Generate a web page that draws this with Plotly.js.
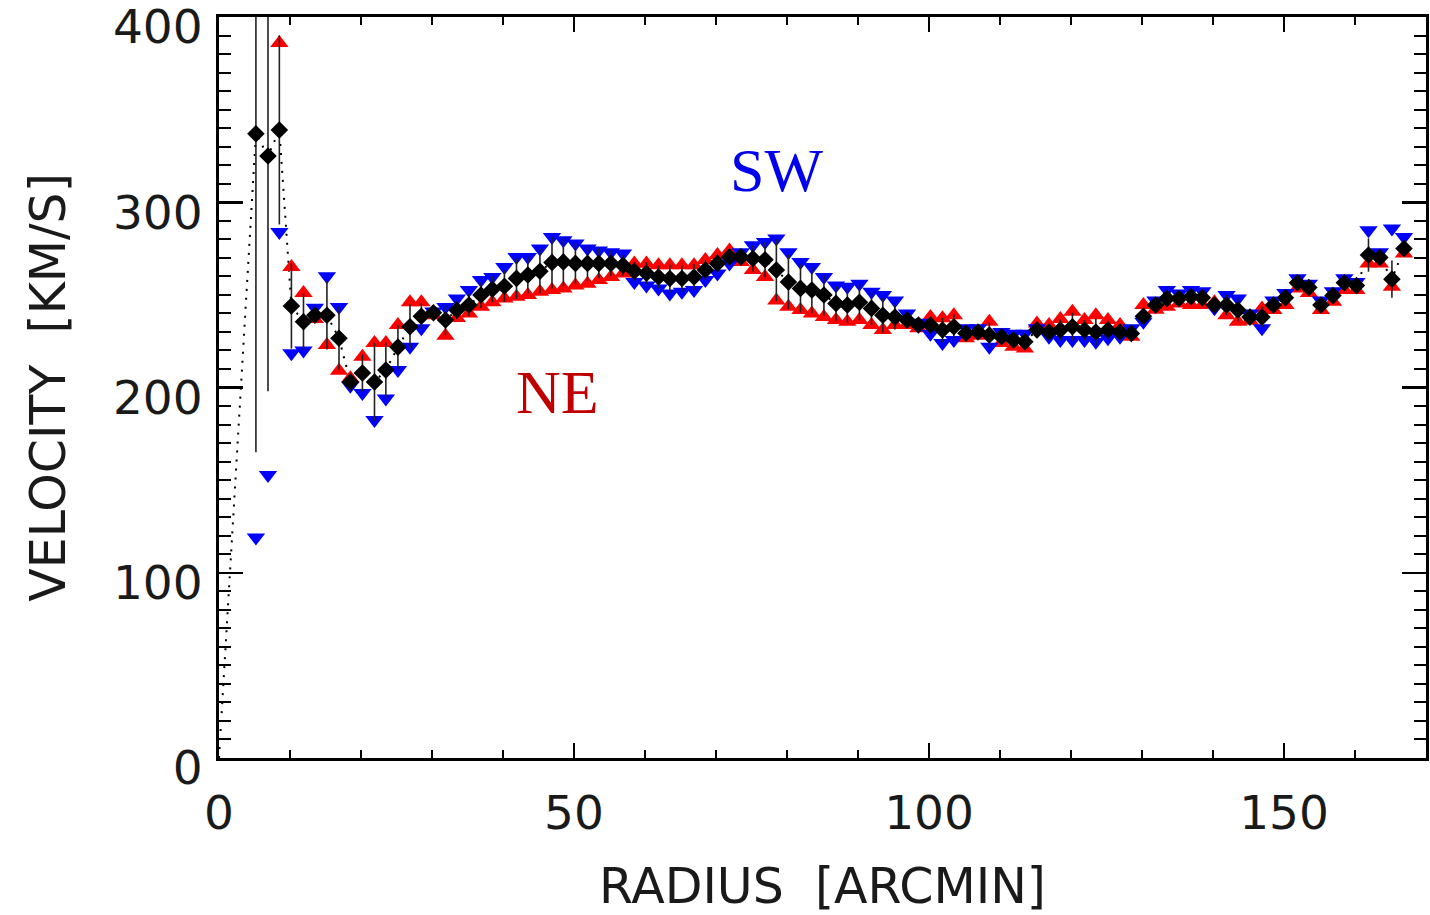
<!DOCTYPE html>
<html>
<head>
<meta charset="utf-8">
<script src="https://cdn.plot.ly/plotly-3.0.1.min.js"></script>
<style>html,body{margin:0;padding:0;background:#fff}#plot{width:1430px;height:915px}</style>
</head>
<body>
<div id="plot"></div>
<script>
// Radius of each bin [arcmin]
const radius = [5.2, 6.9, 8.5, 10.2, 11.9, 13.5, 15.2, 16.9, 18.5, 20.2,
  21.9, 23.5, 25.2, 26.9, 28.5, 30.2, 31.9, 33.5, 35.2, 36.9,
  38.5, 40.2, 41.9, 43.5, 45.2, 46.9, 48.5, 50.2, 51.9, 53.5,
  55.2, 56.9, 58.5, 60.2, 61.9, 63.5, 65.2, 66.9, 68.5, 70.2,
  71.9, 73.5, 75.2, 76.9, 78.5, 80.2, 81.9, 83.5, 85.2, 86.9,
  88.5, 90.2, 91.9, 93.5, 95.2, 96.9, 98.5, 100.2, 101.9, 103.5,
  105.2, 106.9, 108.5, 110.2, 111.9, 113.5, 115.2, 116.9, 118.5, 120.2,
  121.9, 123.5, 125.2, 126.9, 128.5, 130.2, 131.9, 133.5, 135.2, 136.9,
  138.5, 140.2, 141.9, 143.5, 145.2, 146.9, 148.5, 150.2, 151.9, 153.5,
  155.2, 156.9, 158.5, 160.2, 161.9, 163.5, 165.2, 166.9];

// Mean rotation velocity (black diamonds) [km/s]
const velMean = [337, 325, 339, 244, 235.5, 239, 239, 226.6, 203, 207.8,
  203, 209.4, 221.8, 232.8, 238.5, 240.3, 236.4, 241.8, 244.5, 249.9,
  253, 254.7, 258.9, 260.7, 262.8, 267.5, 267.8, 267, 267, 267,
  267, 266, 262.8, 261.7, 259.7, 258.8, 258.8, 259.7, 263.4, 267,
  270.5, 270.5, 269.6, 269, 263.4, 257, 253.5, 252.6, 249.9, 245.4,
  244.5, 246, 242.7, 239, 238, 236.4, 233.7, 233.7, 231, 232.8,
  229.3, 230, 228.3, 227.4, 225.6, 224.7, 231, 230, 231, 232.8,
  231, 230, 231, 230, 229.2, 238.5, 244.5, 248, 248, 249,
  248.5, 244.5, 244.5, 241.8, 238, 238, 244.5, 248.5, 256.5, 254,
  244.5, 249.6, 256.5, 255, 271.5, 270.2, 258.5, 275];

// Error on the mean [km/s]
const velErr = [172, 127, 51, 23, 15.5, 3, 18.5, 17, 2, 10,
  21, 15, 12, 12, 7, 1, 8, 5, 6, 7,
  7, 8.5, 11, 10, 12, 14, 13, 11, 9.5, 8,
  7, 5.5, 5, 6, 6, 7.5, 7, 7, 5.5, 5,
  3.5, 2.5, 7, 9.5, 16.7, 14.7, 13, 12.5, 11, 9.3,
  9.5, 9.8, 9, 9.5, 6.7, 3, 1.5, 4.5, 6.7, 6.7,
  2.7, 2, 6.7, 3, 3.5, 4, 1.3, 3, 5.7, 7.6,
  5.4, 7.2, 5, 3, 2.3, 4.5, 2.2, 4.5, 2.7, 4,
  4, 2, 5.5, 6.3, 2, 5.4, 2.6, 3.3, 2.8, 2.5,
  2.6, 2.8, 3.2, 2.2, 9, 3, 10, 4.5];

// NE side (red up-triangles) [km/s]
const velNE = [null, null, 386, 265, 251, 237, 223, 209, 205, 216.6,
  224, 224, 233.7, 246, 246, 239, 228, 237.5, 240, 243.6,
  246, 248, 249, 250, 251.7, 252.6, 253.5, 255, 256, 258,
  259.7, 261.5, 267, 267, 266, 266, 266, 266, 268.8, 271.5,
  274, 267.8, 263.4, 259.7, 247, 243.6, 241.8, 240, 238, 236.4,
  235.5, 236.4, 233.7, 231, 233.7, 233.7, 232, 238, 237.4, 239,
  226.6, 228, 235.5, 224, 222, 221, 234.6, 233.7, 237, 240.9,
  236.4, 239, 236.4, 233.7, 227.4, 244.5, 242, 243.6, 245.4, 244.5,
  244.5, 246, 239, 235.5, 236, 242.7, 241.8, 244.5, 253.5, 251,
  241.8, 246.3, 252.6, 252.6, 267, 267, 254.4, 272.4];

// SW side (blue down-triangles) [km/s]
const velSW = [119, 152.7, 284, 218.5, 220, 243, 260, 243.5, 201, 197,
  182.4, 194, 209.4, 222, 232, 241, 243.5, 248, 252.6, 258,
  259.7, 265, 270.5, 270.5, 275, 281.3, 279.5, 277.8, 275, 274,
  273, 272.4, 257, 255, 253.5, 250.8, 251.7, 252.6, 258, 261.6,
  267, 273, 276.8, 278.6, 280.4, 273, 267.8, 265, 259.7, 255,
  254.4, 256, 251.7, 250, 247, 240, 235, 229, 224, 225.6,
  232, 232, 222, 230, 229, 229, 232, 227.4, 225.6, 225.6,
  225.6, 224.7, 226.6, 227.4, 232, 235.5, 247, 252.6, 250.8, 252.6,
  252, 242.8, 250, 248, 240, 232, 247, 251, 259, 256,
  247, 252, 259, 257, 284.9, 273, 285.8, 281.3];

const FONT = 'DejaVu Sans, sans-serif';

const traces = [
  { // dotted connecting line from the origin through the mean points
    x: [0].concat(radius), y: [0].concat(velMean),
    mode: 'lines', line: {color: '#000', width: 2, dash: '2px,7px'},
    hoverinfo: 'skip', showlegend: false
  },
  {
    x: radius, y: velNE, name: 'NE', mode: 'markers',
    marker: {symbol: 'triangle-up', size: 16, color: '#ff0000', line: {width: 0}},
    showlegend: false
  },
  {
    x: radius, y: velSW, name: 'SW', mode: 'markers',
    marker: {symbol: 'triangle-down', size: 16, color: '#0000ff', line: {width: 0}},
    showlegend: false
  },
  {
    x: radius, y: velMean, name: 'mean', mode: 'markers',
    marker: {symbol: 'diamond', size: 13.5, color: '#000', line: {width: 0}},
    error_y: {type: 'data', array: velErr, visible: true, color: '#222', thickness: 1.6, width: 0},
    showlegend: false
  }
];

const axisCommon = {
  showgrid: false, zeroline: false,
  showline: true, linecolor: '#000', linewidth: 3,
  mirror: 'allticks', ticks: 'inside', tickcolor: '#000', tickwidth: 2.5,
  ticklabeloverflow: 'allow',
  tickfont: {family: FONT, size: 47, color: '#1a1a1a'}
};

const layout = {
  width: 1430, height: 915,
  margin: {l: 219, r: 4, t: 17, b: 157},
  paper_bgcolor: '#fff', plot_bgcolor: '#fff',
  showlegend: false,
  xaxis: Object.assign({}, axisCommon, {
    range: [0, 170], tickmode: 'array', tickvals: [0, 50, 100, 150], ticklen: 15,
    minor: {dtick: 10, ticklen: 8, tickwidth: 2, ticks: 'inside', tickcolor: '#000'},
    ticklabelstandoff: 12,
    title: {text: 'RADIUS  [ARCMIN]', font: {family: FONT, size: 49, color: '#1a1a1a'}, standoff: 44}
  }),
  yaxis: Object.assign({}, axisCommon, {
    range: [0, 400], tickmode: 'array', tickvals: [0, 100, 200, 300, 400], ticklen: 24,
    minor: {dtick: 10, ticklen: 12, tickwidth: 2, ticks: 'inside', tickcolor: '#000'},
    ticklabelstandoff: 4, ticklabelshift: 10,
    title: {text: 'VELOCITY  [KM/S]', font: {family: FONT, size: 49, color: '#1a1a1a'}, standoff: 32}
  }),
  annotations: [
    {text: 'NE', xref: 'paper', yref: 'paper', x: 0.2807, y: 0.4943,
     xanchor: 'center', yanchor: 'middle', showarrow: false,
     font: {family: 'Liberation Serif, Times New Roman, serif', size: 62, color: '#c00000'}},
    {text: 'SW', xref: 'paper', yref: 'paper', x: 0.4617, y: 0.7929,
     xanchor: 'center', yanchor: 'middle', showarrow: false,
     font: {family: 'Liberation Serif, Times New Roman, serif', size: 62, color: '#0000ee'}}
  ]
};

Plotly.newPlot('plot', traces, layout, {displayModeBar: false, staticPlot: true});
</script>
</body>
</html>
